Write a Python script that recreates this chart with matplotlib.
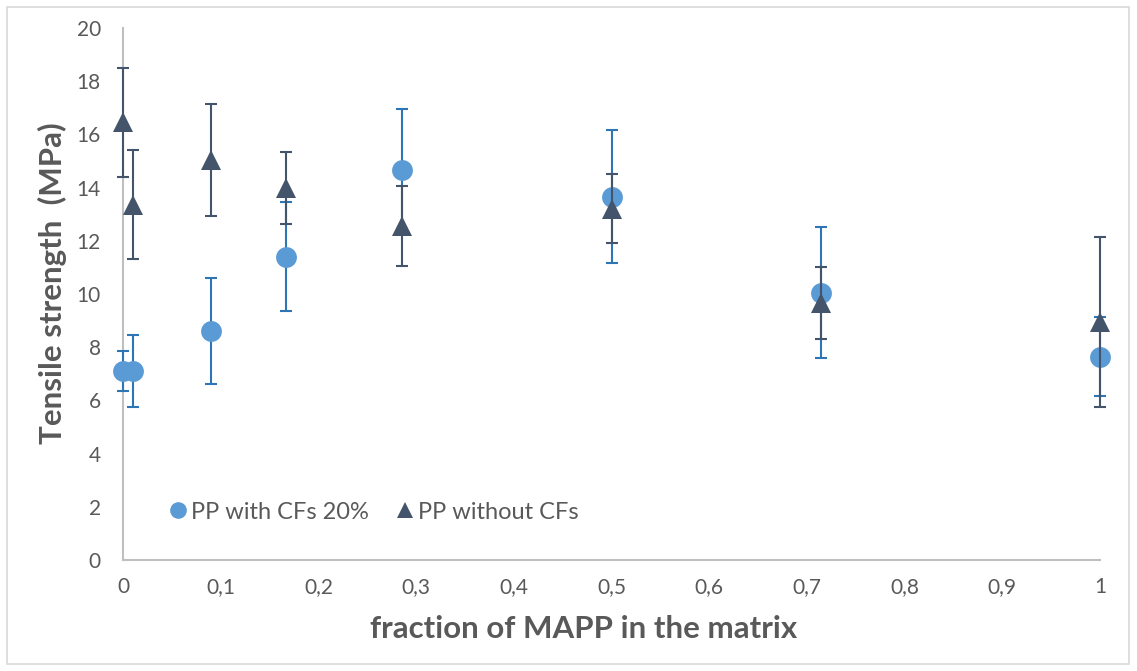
import matplotlib.pyplot as plt
from matplotlib.patches import Rectangle
from matplotlib.lines import Line2D
from matplotlib.ticker import FuncFormatter

# -----------------------------
# Data
# -----------------------------

mapp_fraction = [0, 0.01, 0.09, 0.167, 0.286, 0.5, 0.714, 1.0]

with_cf = [7.1, 7.1, 8.6, 11.4, 14.65, 13.65, 10.05, 7.65]
with_cf_err = [0.75, 1.35, 2.0, 2.05, 2.3, 2.5, 2.45, 1.5]

without_cf = [16.45, 13.35, 15.05, 14.0, 12.55, 13.2, 9.65, 8.95]
without_cf_err = [2.05, 2.05, 2.1, 1.35, 1.5, 1.3, 1.35, 3.2]

x_ticks = [0, 0.1, 0.2, 0.3, 0.4, 0.5, 0.6, 0.7, 0.8, 0.9, 1.0]
y_ticks = [0, 2, 4, 6, 8, 10, 12, 14, 16, 18, 20]

# -----------------------------
# Style
# -----------------------------

plt.rcParams['font.family'] = ['Lato', 'DejaVu Sans']
text_grey = "#595959"
axis_grey = "#BFBFBF"
light_blue = "#5B9BD5"
bar_blue = "#2E75B6"
dark_slate = "#44546A"


def comma_fmt(v, pos):
    s = f"{v:.1f}".rstrip("0").rstrip(".")
    return s.replace(".", ",")


fig = plt.figure(figsize=(11.37, 6.71), dpi=100)
ax = fig.add_axes([0.1082, 0.1654, 0.8593, 0.7929])

# outer frame of the chart area
fig.patches.append(Rectangle((0.006, 0.011), 0.987, 0.978, transform=fig.transFigure,
                             fill=False, edgecolor="#D9D9D9", linewidth=1.2))

series = [
    (with_cf, with_cf_err, 'o', light_blue, bar_blue, 3),
    (without_cf, without_cf_err, '^', dark_slate, dark_slate, 4),
]
for vals, errs, mk, col, ecol, z in series:
    _, caps, bars = ax.errorbar(mapp_fraction, vals, yerr=errs, fmt='none',
                                ecolor=ecol, elinewidth=1.5, capsize=4, capthick=1.5,
                                zorder=z)
    for c in caps:
        c.set_clip_on(False)
    for b in bars:
        b.set_clip_on(False)
    ax.plot(mapp_fraction, vals, linestyle='none', marker=mk, color=col,
            markersize=15, markeredgewidth=0, zorder=z + 0.5, clip_on=False)

ax.set_xlim(0, 1)
ax.set_ylim(0, 20)
ax.set_xticks(x_ticks)
ax.set_yticks(y_ticks)
ax.xaxis.set_major_formatter(FuncFormatter(comma_fmt))
ax.tick_params(length=0, labelsize=15, labelcolor=text_grey)
ax.tick_params(axis='x', pad=12)
ax.tick_params(axis='y', pad=16)

for side in ["top", "right"]:
    ax.spines[side].set_visible(False)
for side in ["left", "bottom"]:
    ax.spines[side].set_color(axis_grey)
    ax.spines[side].set_linewidth(1.5)

ax.set_xlabel("fraction of MAPP in the matrix", fontsize=22.5, fontweight="bold",
              color=text_grey)
ax.set_ylabel("Tensile strength  (MPa)", fontsize=22.5, fontweight="bold",
              color=text_grey)
ax.xaxis.set_label_coords(0.471, -0.104)
ax.yaxis.set_label_coords(-0.057, 0.52)

handles = [
    Line2D([], [], linestyle='none', marker='o', color=light_blue, markersize=12,
           markeredgewidth=0, label="PP with CFs 20%"),
    Line2D([], [], linestyle='none', marker='^', color=dark_slate, markersize=12,
           markeredgewidth=0, label="PP without CFs"),
]
ax.legend(handles=handles, loc="center left", bbox_to_anchor=(0.035, 0.09), ncol=2,
          frameon=False, fontsize=17, labelcolor=text_grey, handletextpad=0.05,
          columnspacing=1.0, handlelength=1.0, borderaxespad=0)

fig.savefig("out.png", dpi=100)
